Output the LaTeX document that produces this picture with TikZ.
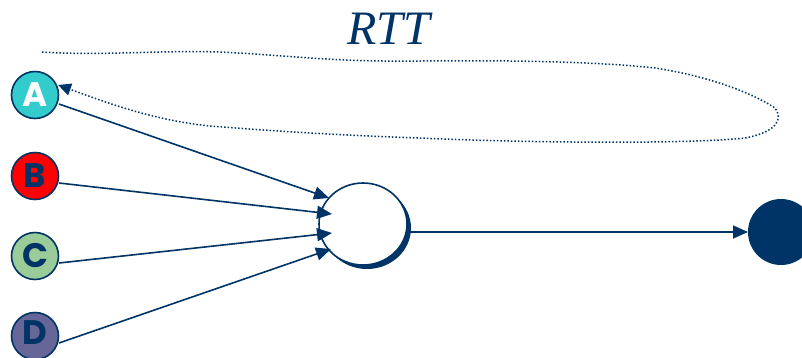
\documentclass[tikz,border=0pt]{standalone}
\usepackage{fontspec}
\setmainfont{Liberation Serif}
\newfontfamily\letterfont{Poppins}
\usetikzlibrary{arrows.meta,shapes.geometric}
\definecolor{navy}{RGB}{0,51,102}
\definecolor{cyanA}{RGB}{51,204,204}
\definecolor{redB}{RGB}{255,0,0}
\definecolor{greenC}{RGB}{153,204,153}
\definecolor{purpD}{RGB}{102,102,153}
\begin{document}
\begin{tikzpicture}[x=1pt,y=-1pt,
  src/.style={circle,draw=navy,line width=1.6pt,minimum size=47pt,inner sep=0pt,font=\letterfont\bfseries\fontsize{34}{34}\selectfont},
  link/.style={draw=navy,line width=1.6pt,-{Triangle[length=15pt,width=13pt]}}]
\useasboundingbox (0,0) rectangle (802,357);
\node[src,fill=cyanA,text=white] (A) at (35,95) {A};
\node[src,fill=redB,text=navy] (B) at (35,176) {B};
\node[src,fill=greenC,text=navy] (C) at (35,256) {C};
\node[src,fill=purpD,text=navy] (D) at (35,336) {};
\node[text=navy,font=\letterfont\bfseries\fontsize{34}{34}\selectfont,inner sep=0pt] (Dl) at (35,333) {D};
\fill[navy] (367,228) ellipse [x radius=44, y radius=41];
\node[ellipse,draw=navy,fill=white,line width=1.6pt,minimum width=88pt,minimum height=82pt,inner sep=0pt] (R) at (363,224) {};
\node[circle,fill=navy,minimum size=66pt,inner sep=0pt] (S) at (781,232) {};
\node[text=navy,font=\itshape\fontsize{48}{48}\selectfont] (T) at (389,29) {RTT};
\coordinate (A1) at (59,104);
\coordinate (B1) at (59,183);
\coordinate (C1) at (59,263);
\coordinate (D1) at (59,343);
\coordinate (A2) at (329,198);
\coordinate (B2) at (332,214);
\coordinate (C2) at (332,233);
\coordinate (D2) at (331,249);
\coordinate (R1) at (409,232);
\coordinate (S1) at (748,232);
\draw[link] (A1) -- (A2);
\draw[link] (B1) -- (B2);
\draw[link] (C1) -- (C2);
\draw[link] (D1) -- (D2);
\draw[link] (R1) -- (S1);
\coordinate (L0) at (42,52);
\coordinate (L1) at (58,85);
\draw[navy,line width=1.5pt,dotted,-{Triangle[length=13pt,width=12pt]}]
  (L0) .. controls (100,56) and (160,50) .. (220,52)
  .. controls (300,56) and (330,62) .. (420,61)
  .. controls (520,60) and (600,62) .. (655,68)
  .. controls (720,78) and (760,98) .. (775,108)
  .. controls (783,118) and (778,132) .. (745,138)
  .. controls (680,145) and (500,142) .. (420,138)
  .. controls (330,135) and (260,130) .. (210,126)
  .. controls (150,120) and (100,100) .. (L1);
\end{tikzpicture}
\end{document}
